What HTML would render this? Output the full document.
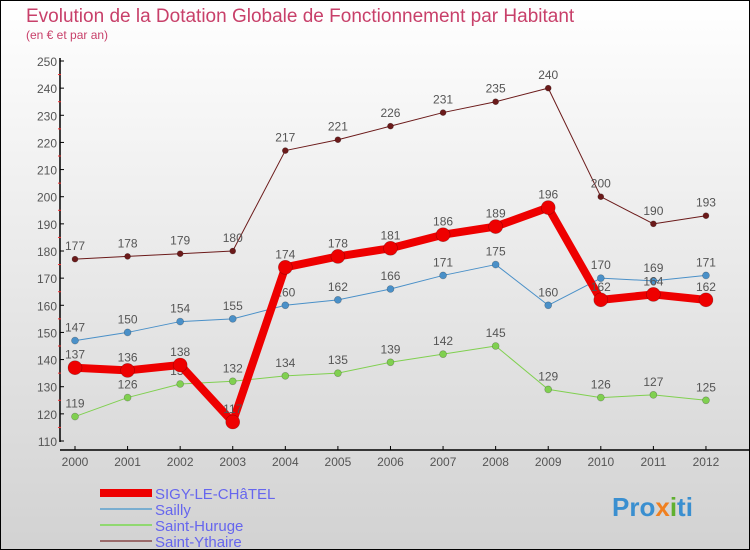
<!DOCTYPE html>
<html><head><meta charset="utf-8"><style>
body{margin:0}
#c{position:relative;width:750px;height:550px;box-sizing:border-box;border:1px solid #000;background:linear-gradient(#ffffff,#d2d2d2);font-family:"Liberation Sans",sans-serif;overflow:hidden}
</style></head><body>
<div id="c">
<svg id="s" width="750" height="550" style="position:absolute;left:-1px;top:-1px">
<text x="26" y="22" font-size="19" fill="#c8406a">Evolution de la Dotation Globale de Fonctionnement par Habitant</text>
<text x="26" y="39" font-size="12" fill="#c8406a">(en € et par an)</text>
<text x="612" y="516" font-size="26" font-weight="bold" fill="#3a8fd0">Pro<tspan fill="#f08020">x</tspan><tspan fill="#60b030">i</tspan>ti</text>
</svg>
</div>
<script>
const years=[2000,2001,2002,2003,2004,2005,2006,2007,2008,2009,2010,2011,2012];
const sigy=[137,136,138,117,174,178,181,186,189,196,162,164,162];
const sailly=[147,150,154,155,160,162,166,171,175,160,170,169,171];
const huruge=[119,126,131,132,134,135,139,142,145,129,126,127,125];
const ythaire=[177,178,179,180,217,221,226,231,235,240,200,190,193];
const yTicks=[110,120,130,140,150,160,170,180,190,200,210,220,230,240,250];
const svg=document.getElementById('s');const NS='http://www.w3.org/2000/svg';
function X(i){return 75+i*52.58;}
function Y(v){return 441-(v-110)*380/140;}
function mk(t,a,p){const e=document.createElementNS(NS,t);for(const k in a)e.setAttribute(k,a[k]);(p||svg).appendChild(e);return e;}
let ax=mk('line',{x1:60,y1:58,x2:60,y2:442,stroke:'#000','stroke-width':1.5});


let bx=mk('line',{x1:60,y1:450,x2:750,y2:450,stroke:'#000','stroke-width':1.5});


yTicks.forEach(v=>{
 mk('line',{x1:60,y1:Y(v),x2:64,y2:Y(v),stroke:'#000'});
 if(v<250)mk('line',{x1:58,y1:Y(v+5),x2:61,y2:Y(v+5),stroke:'#f03030'});
 const t=mk('text',{x:57,y:Y(v)+5,'text-anchor':'end','font-size':12,fill:'#555'});t.textContent=v;
 
 
});
years.forEach((yr,i)=>{
 mk('line',{x1:X(i),y1:446,x2:X(i),y2:450,stroke:'#000'});
 const t=mk('text',{x:X(i),y:466,'text-anchor':'middle','font-size':12,fill:'#555'});t.textContent=yr;
 
 
});
function series(vals,col,w,r,name){
 const g=mk('g',{});
 
 
 mk('polyline',{points:vals.map((v,i)=>X(i)+','+Y(v)).join(' '),fill:'none',stroke:col,'stroke-width':w,'stroke-linejoin':'round'},g);
 vals.forEach((v,i)=>{
  const c=mk('circle',{cx:X(i),cy:Y(v),r:r,fill:col,stroke:'rgba(0,0,0,0.3)','stroke-width':0.6},g);
  
  
  const t=mk('text',{x:X(i),y:Y(v)-9,'text-anchor':'middle','font-size':12,fill:'#555'},g);t.textContent=v;
 });
}
series(ythaire,'#6b1a1a',1,3,'saint-ythaire');
series(huruge,'#80d050',1,3.5,'saint-huruge');
series(sailly,'#4a90c8',1,3.5,'sailly');
series(sigy,'#ee0000',8,7,'sigy-le-chatel');
const legNames=['SIGY-LE-CHâTEL','Sailly','Saint-Huruge','Saint-Ythaire'];
const legCols=['#ee0000','#7aaed0','#90d870','#9a6a6a'];
const legW=[8,2,2,2];
legNames.forEach((n,i)=>{
 const y=493+i*16;
 const l=mk('line',{x1:100,y1:y,x2:152,y2:y,stroke:legCols[i],'stroke-width':legW[i]});
 
 
 const t=mk('text',{x:155,y:y+6,'font-size':15,fill:'#6666ee'});t.textContent=n;
 
 
});
</script>
</body></html>
